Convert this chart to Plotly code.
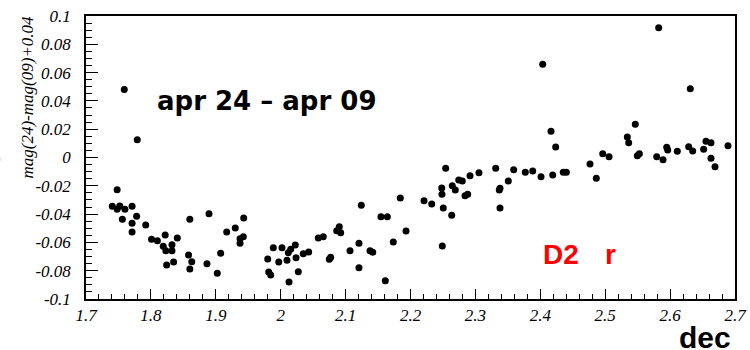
import plotly.graph_objects as go

dec = [1.759, 1.779, 1.748, 1.7405, 1.748, 1.752, 1.760, 1.756, 1.771, 1.771,
       1.778, 1.771, 1.792, 1.801, 1.810, 1.822, 1.819, 1.823, 1.8325, 1.8325,
       1.8407, 1.8243, 1.835, 1.860, 1.858, 1.863, 1.860, 1.8895, 1.8864, 1.9075,
       1.9023, 1.9168, 1.930, 1.943, 1.9373, 1.9424, 1.9373, 1.980, 1.9815, 1.9846,
       1.9886, 1.997, 2.002, 2.0097, 2.0117, 2.0154, 2.0225, 2.0236, 2.0128, 2.0271,
       2.0348, 2.0431, 2.0579, 2.0656, 2.0749, 2.077, 2.0863, 2.0903, 2.0924, 2.1068,
       2.1206, 2.1206, 2.1242, 2.1376, 2.1418, 2.1545, 2.1643, 2.1612, 2.1735, 2.1843,
       2.1931, 2.2208, 2.2327, 2.2481, 2.2485, 2.2542, 2.2505, 2.249, 2.2635, 2.2644,
       2.269, 2.2743, 2.2798, 2.284, 2.2881, 2.2917, 2.3055, 2.3313, 2.3379, 2.3368,
       2.3379, 2.3507, 2.359, 2.3769, 2.3883, 2.4011, 2.4191, 2.4037, 2.4165, 2.4237,
       2.4354, 2.4401, 2.4766, 2.4863, 2.4962, 2.5059, 2.5341, 2.5362, 2.5464, 2.5495,
       2.5526, 2.5794, 2.5891, 2.5824, 2.5948, 2.5963, 2.6111, 2.6286, 2.6348, 2.6311,
       2.6517, 2.6553, 2.663, 2.663, 2.6692, 2.6892]

dmag = [0.048, 0.0125, -0.0228, -0.0345, -0.0366, -0.0343, -0.0366, -0.0437, -0.0345, -0.0465,
        -0.0416, -0.0526, -0.0477, -0.0578, -0.0588, -0.0548, -0.0628, -0.0659, -0.0616, -0.0659,
        -0.0569, -0.076, -0.0738, -0.0437, -0.0689, -0.0736, -0.0788, -0.0397, -0.0751, -0.0677,
        -0.0818, -0.0526, -0.0498, -0.0428, -0.0574, -0.056, -0.0606, -0.0717, -0.0809, -0.083,
        -0.0637, -0.0738, -0.0637, -0.0727, -0.0673, -0.0649, -0.0618, -0.0708, -0.088, -0.0807,
        -0.068, -0.0668, -0.0569, -0.056, -0.0719, -0.0705, -0.0517, -0.0489, -0.0531, -0.0659,
        -0.0606, -0.0779, -0.0338, -0.0659, -0.067, -0.0418, -0.0418, -0.0871, -0.0597, -0.0286,
        -0.0519, -0.0305, -0.0329, -0.0216, -0.026, -0.0076, -0.0357, -0.0625, -0.0409, -0.0199,
        -0.023, -0.0159, -0.0166, -0.027, -0.026, -0.0129, -0.0107, -0.0076, -0.0218, -0.023,
        -0.0357, -0.0166, -0.0087, -0.0105, -0.0095, -0.0136, -0.0124, 0.0659, 0.0185, 0.0074,
        -0.0105, -0.0105, -0.0046, -0.0147, 0.0027, 0.0006, 0.0145, 0.0105, 0.0235, 0.0013,
        0.0027, 0.0006, -0.0016, 0.0917, 0.0072, 0.0053, 0.0044, 0.0076, 0.0046, 0.0486,
        0.0058, 0.0114, 0.0105, -0.0006, -0.0065, 0.0083]

x_tickvals = [1.7, 1.8, 1.9, 2.0, 2.1, 2.2, 2.3, 2.4, 2.5, 2.6, 2.7]
x_ticktext = ["1.7", "1.8", "1.9", "2", "2.1", "2.2", "2.3", "2.4", "2.5", "2.6", "2.7"]
y_tickvals = [-0.1, -0.08, -0.06, -0.04, -0.02, 0.0, 0.02, 0.04, 0.06, 0.08, 0.1]
y_ticktext = ["-0.1", "-0.08", "-0.06", "-0.04", "-0.02", "0", "0.02", "0.04", "0.06", "0.08", "0.1"]

fig = go.Figure()
fig.add_trace(go.Scatter(x=dec, y=dmag, mode="markers",
                         marker=dict(color="black", size=7)))
fig.update_layout(
    width=750, height=350,
    margin=dict(l=86, r=15, t=16, b=51, autoexpand=False),
    paper_bgcolor="white", plot_bgcolor="white",
    showlegend=False,
)
fig.update_xaxes(range=[1.7, 2.7], tickmode="array", tickvals=x_tickvals, ticktext=x_ticktext,
                 ticks="inside", ticklen=10, tickwidth=1, tickcolor="black",
                 minor=dict(ticks="inside", ticklen=5, dtick=0.02),
                 showline=True, linecolor="black", linewidth=1.5, mirror=True,
                 showgrid=False, zeroline=False,
                 tickfont=dict(family="Times New Roman, Liberation Serif, serif", size=17,
                               color="black", style="italic"))
fig.update_yaxes(range=[-0.1, 0.1], tickmode="array", tickvals=y_tickvals, ticktext=y_ticktext,
                 ticks="inside", ticklen=12, tickwidth=1, tickcolor="black",
                 minor=dict(ticks="inside", ticklen=6, tickwidth=1, tickcolor="black",
                            tickmode="linear", tick0=-0.1, dtick=0.005, showgrid=False),
                 showline=True, linecolor="black", linewidth=1.5, mirror=True,
                 showgrid=False, zeroline=False, ticklabelstandoff=10,
                 tickfont=dict(family="Times New Roman, Liberation Serif, serif", size=17,
                               color="black", style="italic"))

fig.add_annotation(text="mag(24)-mag(09)+0.04", xref="paper", yref="paper",
                   x=-0.0894, y=1.0106, xanchor="center", yanchor="top", textangle=-90,
                   showarrow=False,
                   font=dict(family="Liberation Serif", size=17, color="black", style="italic"))
fig.add_annotation(text="apr 24 – apr 09", xref="paper", yref="paper",
                   x=0.1063, y=0.6996, xanchor="left", yanchor="middle", showarrow=False,
                   font=dict(family="DejaVu Sans", size=26, color="black", weight="bold"))
fig.add_annotation(text="D2", xref="paper", yref="paper",
                   x=0.7011, y=0.1555, xanchor="left", yanchor="middle", showarrow=False,
                   font=dict(family="Liberation Sans", size=28, color="#ff0000", weight="bold"))
fig.add_annotation(text="r", xref="paper", yref="paper",
                   x=0.7966, y=0.1555, xanchor="left", yanchor="middle", showarrow=False,
                   font=dict(family="Liberation Sans", size=28, color="#ff0000", weight="bold"))
fig.add_annotation(text="dec", xref="paper", yref="paper",
                   x=0.9969, y=-0.136, xanchor="right", yanchor="middle", showarrow=False,
                   font=dict(family="Liberation Sans", size=30, color="black", weight="bold"))
fig.add_annotation(text="o", xref="paper", yref="paper",
                   x=-0.1279, y=0.498, xanchor="right", yanchor="middle", showarrow=False,
                   font=dict(family="Liberation Sans", size=16, color="#ff0000", weight="bold"))

fig.write_html("out.html", config={"displayModeBar": False},
               post_script="document.body.style.margin='0';")
